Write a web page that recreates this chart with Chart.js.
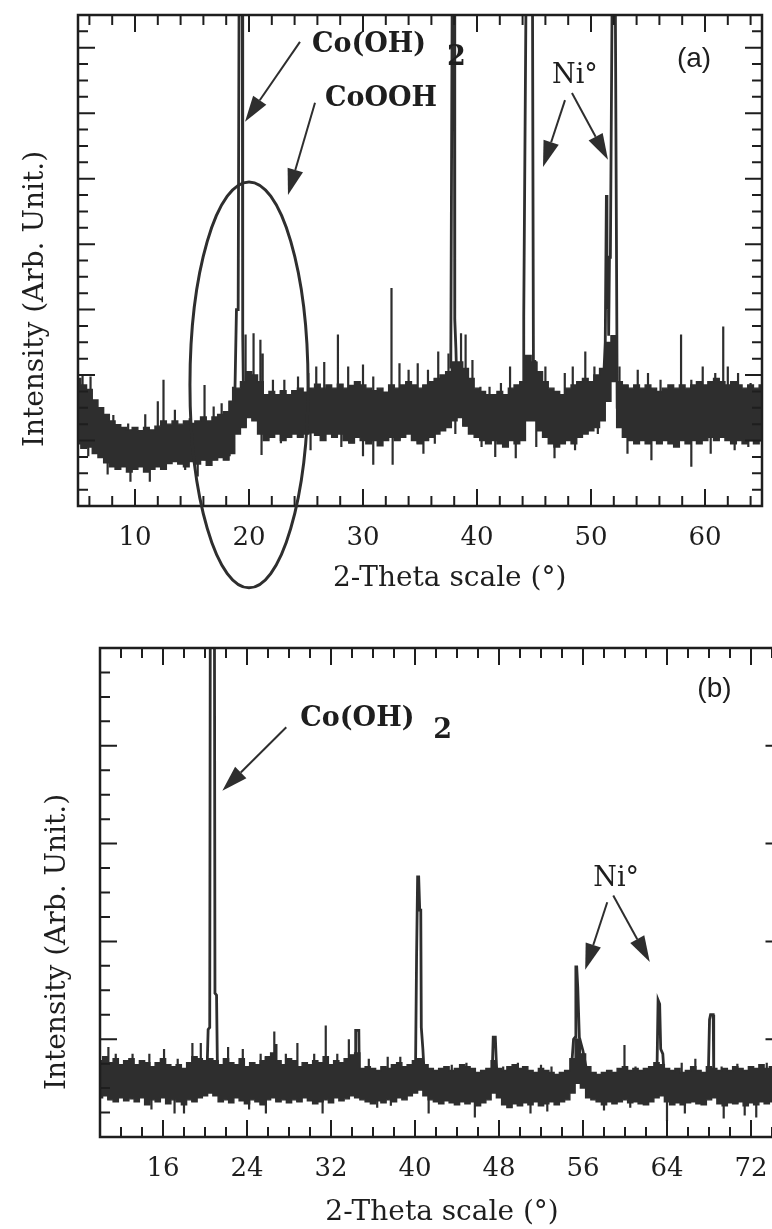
<!DOCTYPE html>
<html>
<head>
<meta charset="utf-8">
<title>XRD patterns (a) / (b)</title>
<script src="https://cdn.jsdelivr.net/npm/chart.js@4.4.1/dist/chart.umd.min.js"></script>
<style>
    html, body { margin: 0; padding: 0; background: #fff; overflow: hidden; }
    .panel { position: absolute; left: 0; }
    #panelA { top: 0; }
    #panelB { top: 620px; }
</style>
</head>
<body>
<div class="panel" id="panelA"><canvas id="chartA" width="772" height="600"></canvas></div>
<div class="panel" id="panelB"><canvas id="chartB" width="800" height="609"></canvas></div>
<script>
/**
 * XRD patterns, panel (a) and panel (b)
 * noise band = upper/lower envelope read every 0.5 deg, plus single spikes and the peak traces
 */

// ---- panel (a) data ----
const aStart = 5, aStep = 0.5;
const aUpper = [
    1.95, 1.85, 1.78, 1.62, 1.50, 1.40, 1.30, 1.24, 1.20, 1.16,   // 5.0 - 9.5
    1.20, 1.15, 1.20, 1.16, 1.22, 1.30, 1.25, 1.30, 1.25, 1.30,   // 10.0 - 14.5
    1.26, 1.30, 1.36, 1.30, 1.36, 1.40, 1.44, 1.60, 1.80, 1.90,   // 15.0 - 19.5
    2.05, 2.00, 1.90, 1.70, 1.75, 1.70, 1.76, 1.70, 1.76, 1.80,   // 20.0 - 24.5
    1.74, 1.80, 1.86, 1.80, 1.85, 1.80, 1.86, 1.80, 1.84, 1.90,   // 25.0 - 29.5
    1.85, 1.80, 1.76, 1.80, 1.74, 1.85, 1.80, 1.85, 1.90, 1.85,   // 30.0 - 34.5
    1.80, 1.85, 1.90, 1.95, 2.00, 2.05, 2.20, 2.20, 2.10, 1.95,   // 35.0 - 39.5
    1.80, 1.75, 1.70, 1.70, 1.75, 1.70, 1.80, 1.85, 1.90, 2.30,   // 40.0 - 44.5
    2.20, 2.05, 1.90, 1.80, 1.75, 1.70, 1.80, 1.85, 1.90, 1.95,   // 45.0 - 49.5
    1.90, 2.00, 2.10, 2.50, 2.60, 1.90, 1.85, 1.80, 1.85, 1.80,   // 50.0 - 54.5
    1.85, 1.80, 1.75, 1.80, 1.85, 1.80, 1.85, 1.80, 1.85, 1.90,   // 55.0 - 59.5
    1.85, 1.90, 1.95, 1.90, 1.85, 1.90, 1.85, 1.80, 1.85, 1.80,   // 60.0 - 64.5
    1.85                                                          // 65.0
];
const aLower = [
    0.95, 0.88, 0.90, 0.80, 0.74, 0.66, 0.60, 0.56, 0.60, 0.52,
    0.56, 0.60, 0.52, 0.56, 0.60, 0.56, 0.65, 0.68, 0.64, 0.60,
    0.68, 0.64, 0.70, 0.62, 0.70, 0.74, 0.70, 0.80, 1.10, 1.20,
    1.35, 1.30, 1.10, 1.00, 1.05, 1.10, 1.00, 1.05, 1.10, 1.05,
    1.10, 1.12, 1.08, 1.00, 1.10, 1.05, 1.10, 1.00, 0.96, 1.05,
    1.00, 0.95, 1.00, 0.92, 1.00, 1.05, 1.00, 1.05, 1.10, 1.00,
    0.95, 1.00, 1.05, 1.10, 1.15, 1.20, 1.30, 1.35, 1.22, 1.10,
    1.05, 1.00, 0.95, 1.00, 0.95, 0.90, 1.00, 0.95, 1.00, 1.30,
    1.30, 1.15, 1.05, 0.95, 0.90, 0.95, 1.00, 0.95, 1.05, 1.10,
    1.15, 1.20, 1.30, 1.60, 1.90, 1.20, 1.05, 1.00, 0.95, 1.00,
    0.95, 1.00, 0.95, 1.00, 0.95, 0.90, 1.00, 0.95, 1.00, 0.95,
    1.00, 1.05, 1.00, 1.05, 1.00, 0.95, 1.00, 0.95, 1.00, 0.95,
    1.00
];
// single noise spikes [2theta, tip]
const aSpikesUp = [
    [5.4, 2.0], [6.1, 1.98], [8.1, 1.39], [9.4, 1.26], [10.9, 1.4], [12.0, 1.6], [12.5, 1.93],
    [13.5, 1.47], [14.8, 1.34], [16.1, 1.85], [16.9, 1.52], [17.6, 1.57], [18.6, 1.82],
    [19.7, 2.62], [20.4, 2.64], [21.0, 2.54], [21.2, 2.33], [22.1, 1.93], [23.1, 1.93],
    [24.3, 1.98], [25.2, 2.03], [25.9, 2.13], [26.6, 2.2], [27.8, 2.62], [28.7, 2.13],
    [30.0, 2.16], [30.9, 1.98], [32.5, 3.33], [33.2, 2.18], [34.0, 2.08], [34.8, 2.18],
    [35.7, 2.08], [36.6, 2.36], [37.5, 2.33], [38.6, 2.64], [39.0, 2.62], [39.6, 2.23],
    [40.3, 1.82], [41.1, 1.82], [42.1, 1.88], [42.9, 2.13], [45.1, 2.23], [46.0, 2.13],
    [47.7, 2.03], [48.4, 2.13], [49.5, 2.36], [50.3, 2.13], [52.5, 2.13], [54.1, 2.08],
    [55.0, 2.03], [56.1, 1.93], [57.9, 2.62], [58.8, 1.93], [59.8, 2.13], [60.9, 2.03],
    [61.6, 2.74], [62.0, 2.13], [62.9, 2.03], [64.0, 1.88]
];
const aSpikesDown = [
    [5.9, 0.76], [7.6, 0.48], [9.6, 0.37], [11.3, 0.37], [12.7, 0.6], [14.4, 0.55], [15.5, 0.45],
    [18.3, 0.76], [21.1, 0.78], [22.8, 0.96], [25.4, 0.85], [28.1, 0.9], [30.0, 0.76],
    [30.9, 0.63], [32.6, 0.63], [35.3, 0.8], [36.3, 0.95], [38.1, 1.1], [40.4, 0.9],
    [41.6, 0.75], [43.4, 0.73], [45.2, 0.9], [46.8, 0.73], [48.6, 0.85], [50.6, 1.1],
    [53.2, 0.8], [55.3, 0.7], [58.8, 0.6], [60.5, 0.8], [62.6, 0.85], [63.8, 0.9]
];
// strong reflections, tops run off the frame
const aPeaks = [
    [[18.75, 1.6], [18.9, 3.0], [19.05, 3.0], [19.15, 9], [19.4, 9], [19.45, 2.6], [19.55, 1.2], [19.65, 1.9]],
    [[37.7, 2.1], [37.85, 9], [38.0, 9], [38.05, 2.85], [38.15, 2.4], [38.3, 1.4]],
    [[44.05, 1.9], [44.1, 2.9], [44.35, 9], [44.85, 9], [44.95, 2.2], [45.05, 1.3]],
    [[51.1, 1.9], [51.25, 2.5], [51.35, 4.75], [51.4, 3.0], [51.5, 3.8], [51.55, 2.6], [51.62, 3.8],
     [51.7, 3.8], [51.9, 9], [52.1, 9], [52.3, 1.5], [52.45, 1.3]]
];
const aTickLabels = [10, 20, 30, 40, 50, 60];

// ---- panel (b) data ----
const bStart = 10, bStep = 0.5;
const bUpper = [
    0.78, 0.82, 0.76, 0.80, 0.74, 0.78, 0.80, 0.74, 0.78, 0.76,   // 10.0 - 14.5
    0.72, 0.76, 0.80, 0.74, 0.72, 0.74, 0.70, 0.76, 0.82, 0.80,   // 15.0 - 19.5
    0.78, 0.80, 0.78, 0.74, 0.80, 0.76, 0.74, 0.80, 0.72, 0.76,   // 20.0 - 24.5
    0.74, 0.78, 0.82, 0.86, 0.78, 0.74, 0.80, 0.78, 0.72, 0.76,   // 25.0 - 29.5
    0.74, 0.78, 0.76, 0.82, 0.74, 0.78, 0.76, 0.80, 0.84, 0.86,   // 30.0 - 34.5
    0.70, 0.72, 0.70, 0.68, 0.72, 0.70, 0.74, 0.76, 0.72, 0.74,   // 35.0 - 39.5
    0.78, 0.80, 0.74, 0.70, 0.68, 0.70, 0.72, 0.68, 0.70, 0.74,   // 40.0 - 44.5
    0.72, 0.70, 0.66, 0.68, 0.70, 0.78, 0.70, 0.68, 0.72, 0.74,   // 45.0 - 49.5
    0.70, 0.72, 0.68, 0.66, 0.70, 0.68, 0.66, 0.64, 0.66, 0.68,   // 50.0 - 54.5
    0.80, 1.00, 0.85, 0.72, 0.66, 0.64, 0.66, 0.68, 0.66, 0.70,   // 55.0 - 59.5
    0.72, 0.68, 0.70, 0.68, 0.70, 0.72, 0.76, 0.74, 0.70, 0.68,   // 60.0 - 64.5
    0.70, 0.66, 0.68, 0.72, 0.68, 0.66, 0.72, 0.70, 0.68, 0.70,   // 65.0 - 69.5
    0.68, 0.72, 0.70, 0.68, 0.72, 0.70, 0.74, 0.70, 0.72, 0.70,   // 70.0 - 74.5
    0.72                                                          // 75.0
];
const bLower = [
    0.40, 0.42, 0.38, 0.36, 0.40, 0.37, 0.39, 0.36, 0.40, 0.33,
    0.38, 0.36, 0.40, 0.34, 0.38, 0.36, 0.33, 0.38, 0.36, 0.40,
    0.42, 0.45, 0.42, 0.36, 0.38, 0.35, 0.40, 0.37, 0.34, 0.38,
    0.36, 0.33, 0.38, 0.40, 0.36, 0.38, 0.35, 0.38, 0.36, 0.40,
    0.37, 0.34, 0.36, 0.38, 0.35, 0.40, 0.37, 0.39, 0.42, 0.40,
    0.38, 0.36, 0.34, 0.37, 0.35, 0.38, 0.36, 0.40, 0.38, 0.42,
    0.45, 0.48, 0.42, 0.38, 0.36, 0.34, 0.37, 0.35, 0.33, 0.36,
    0.34, 0.36, 0.32, 0.35, 0.38, 0.45, 0.40, 0.33, 0.30, 0.34,
    0.32, 0.35, 0.33, 0.36, 0.32, 0.34, 0.36, 0.33, 0.36, 0.38,
    0.45, 0.55, 0.50, 0.40, 0.38, 0.36, 0.33, 0.36, 0.34, 0.36,
    0.38, 0.35, 0.36, 0.34, 0.33, 0.36, 0.40, 0.42, 0.36, 0.33,
    0.35, 0.33, 0.35, 0.36, 0.34, 0.33, 0.38, 0.40, 0.34, 0.32,
    0.35, 0.34, 0.36, 0.32, 0.35, 0.33, 0.36, 0.34, 0.36, 0.35,
    0.36
];
const bSpikesUp = [
    [10.8, 0.92], [11.5, 0.85], [13.1, 0.85], [14.7, 0.85], [16.1, 0.9], [17.4, 0.8], [18.8, 0.96],
    [19.6, 0.96], [22.2, 0.92], [23.6, 0.9], [25.3, 0.85], [26.6, 1.08], [26.8, 0.95], [27.7, 0.85],
    [28.8, 0.96], [30.4, 0.85], [31.5, 1.14], [32.6, 0.85], [33.7, 1.0], [35.6, 0.8], [37.4, 0.82],
    [38.6, 0.82], [43.5, 0.74], [44.9, 0.76], [48.4, 0.72], [49.8, 0.76], [52.0, 0.74], [53.0, 0.72],
    [59.95, 0.94], [61.0, 0.72], [65.4, 0.76], [66.7, 0.8], [69.2, 0.72], [70.7, 0.75], [72.9, 0.74],
    [73.5, 0.76]
];
const bSpikesDown = [
    [14.9, 0.28], [17.1, 0.24], [18.0, 0.24], [24.2, 0.28], [25.8, 0.24], [31.2, 0.24], [36.4, 0.3],
    [37.7, 0.32], [41.3, 0.24], [45.7, 0.2], [51.0, 0.24], [52.6, 0.26], [58.0, 0.27], [60.5, 0.3],
    [64.0, 0.16], [65.7, 0.24], [69.4, 0.19], [71.4, 0.22], [72.5, 0.2]
];
const bPeaks = [
    [[20.2, 0.7], [20.3, 1.1], [20.45, 1.12], [20.55, 9], [20.85, 9], [20.95, 1.47], [21.1, 1.45], [21.2, 0.55]],
    [[34.3, 0.7], [34.35, 1.09], [34.65, 1.09], [34.7, 0.6]],
    [[40.05, 0.7], [40.15, 1.84], [40.25, 2.66], [40.35, 2.66], [40.45, 2.32], [40.55, 2.32], [40.6, 1.12], [40.75, 0.9], [40.9, 0.6]],
    [[47.35, 0.65], [47.45, 1.02], [47.65, 1.02], [47.75, 0.75], [47.85, 0.55]],
    [[54.9, 0.7], [55.1, 1.0], [55.25, 1.02], [55.32, 1.74], [55.4, 1.74], [55.5, 1.53], [55.65, 1.02], [56.0, 0.88], [56.4, 0.65]],
    [[63.05, 0.7], [63.15, 1.4], [63.3, 1.36], [63.4, 0.9], [63.6, 0.85], [63.75, 0.6]],
    [[67.95, 0.7], [68.05, 1.2], [68.15, 1.25], [68.4, 1.25], [68.45, 0.65]]
];
const bTickLabels = [16, 24, 32, 40, 48, 56, 64, 72];

// ---- styles ----
const INK = '#2e2e2e';
const TEXT = '#1e1e1e';
const SERIF = "'DejaVu Serif', 'Liberation Serif', serif";

// helpers: build {x,y} point lists from the arrays
function bandPoints(start, step, values) {
    return values.map((v, i) => ({ x: start + i * step, y: v }));
}

function spikePoints(list, start, step, base) {
    const pts = [];
    list.forEach(([x, y]) => {
        const i = Math.round((x - start) / step);
        pts.push({ x: x, y: base[i] }, { x: x, y: y }, { x: x, y: null });
    });
    return pts;
}

function tracePoints(segments) {
    const pts = [];
    segments.forEach(seg => {
        seg.forEach(([x, y]) => pts.push({ x: x, y: y }));
        pts.push({ x: seg[seg.length - 1][0], y: null });
    });
    return pts;
}

function buildDatasets(start, step, upper, lower, spikesUp, spikesDown, peaks) {
    const common = { borderColor: INK, pointRadius: 0, clip: 0, tension: 0 };
    return [
        { ...common, data: bandPoints(start, step, upper), stepped: 'middle', borderWidth: 1.4, fill: '+1', backgroundColor: INK },
        { ...common, data: bandPoints(start, step, lower), stepped: 'middle', borderWidth: 1.4, fill: false },
        { ...common, data: spikePoints(spikesUp, start, step, lower), borderWidth: 2.2, fill: false },
        { ...common, data: spikePoints(spikesDown, start, step, upper), borderWidth: 2.2, fill: false },
        { ...common, data: tracePoints(peaks), borderWidth: 2.8, fill: false }
    ];
}

/**
 * frame, inward ticks and the annotations (texts, arrows, ellipse)
 * annotation positions are given in data units and mapped through the scales
 */
const decorPlugin = {
    id: 'panelDecor',
    afterDatasetsDraw(chart, args, opts) {
        const { ctx, chartArea: area } = chart;
        const xs = chart.scales.x, ys = chart.scales.y;
        const px = v => xs.getPixelForValue(v);
        const py = v => ys.getPixelForValue(v);
        ctx.save();

        // ticks
        ctx.strokeStyle = TEXT;
        ctx.lineWidth = 2;
        ctx.beginPath();
        const nx = Math.round((xs.max - opts.xMinorFrom) / opts.xMinorStep);
        for (let i = 0; i <= nx; i++) {
            const v = opts.xMinorFrom + i * opts.xMinorStep;
            const major = opts.xTicks.some(t => Math.abs(t - v) < 1e-6);
            const len = major ? 17 : 10;
            const p = px(v);
            ctx.moveTo(p, area.bottom); ctx.lineTo(p, area.bottom - len);
            ctx.moveTo(p, area.top); ctx.lineTo(p, area.top + len);
        }
        const ny = Math.round(ys.max / opts.yMinorStep);
        for (let i = 1; i < ny; i++) {
            const v = i * opts.yMinorStep;
            const major = Math.abs(v - Math.round(v)) < 1e-6;
            const len = major ? 17 : 10;
            const p = py(v);
            ctx.moveTo(area.left, p); ctx.lineTo(area.left + len, p);
            ctx.moveTo(area.right, p); ctx.lineTo(area.right - len, p);
        }
        ctx.stroke();

        // frame
        ctx.lineWidth = 2.5;
        ctx.strokeRect(area.left, area.top, area.right - area.left, area.bottom - area.top);

        // ellipses
        ctx.strokeStyle = INK;
        (opts.ellipses || []).forEach(e => {
            const cx = px(e.cx), cy = py(e.cy);
            const rx = Math.abs(px(e.cx + e.rx) - cx), ry = Math.abs(py(e.cy + e.ry) - cy);
            ctx.lineWidth = 3;
            ctx.beginPath();
            ctx.ellipse(cx, cy, rx, ry, 0, 0, Math.PI * 2);
            ctx.stroke();
        });

        // arrows
        ctx.fillStyle = INK;
        (opts.arrows || []).forEach(a => {
            const x1 = px(a.from[0]), y1 = py(a.from[1]);
            const x2 = px(a.to[0]), y2 = py(a.to[1]);
            const ang = Math.atan2(y2 - y1, x2 - x1);
            const headLen = 26, headHalf = 8;
            const bx = x2 - headLen * Math.cos(ang), by = y2 - headLen * Math.sin(ang);
            ctx.lineWidth = 2;
            ctx.beginPath();
            ctx.moveTo(x1, y1); ctx.lineTo(bx, by);
            ctx.stroke();
            ctx.beginPath();
            ctx.moveTo(x2, y2);
            ctx.lineTo(bx + headHalf * Math.sin(ang), by - headHalf * Math.cos(ang));
            ctx.lineTo(bx - headHalf * Math.sin(ang), by + headHalf * Math.cos(ang));
            ctx.closePath();
            ctx.fill();
        });

        // texts
        ctx.fillStyle = TEXT;
        ctx.textBaseline = 'alphabetic';
        ctx.textAlign = 'left';
        (opts.texts || []).forEach(t => {
            ctx.save();
            ctx.font = t.font;
            ctx.translate(px(t.x), py(t.y));
            if (t.rotate) ctx.rotate(t.rotate);
            ctx.fillText(t.text, 0, 0);
            ctx.restore();
        });

        ctx.restore();
    }
};

function makeChart(canvasId, cfg) {
    const ctx = document.getElementById(canvasId).getContext('2d');
    return new Chart(ctx, {
        type: 'line',
        data: { datasets: cfg.datasets },
        options: {
            responsive: false,
            animation: false,
            devicePixelRatio: 1,
            events: [],
            layout: { padding: cfg.padding },
            plugins: {
                legend: { display: false },
                tooltip: { enabled: false },
                panelDecor: cfg.decor
            },
            scales: {
                x: {
                    type: 'linear',
                    min: cfg.xMin,
                    max: cfg.xMax,
                    afterBuildTicks: s => { s.ticks = cfg.xTicks.map(v => ({ value: v })); },
                    afterFit: s => { s.height = cfg.xAxisHeight; },
                    grid: { display: false, drawTicks: false },
                    border: { display: false },
                    ticks: {
                        font: { family: SERIF, size: 26 },
                        color: TEXT,
                        padding: 17,
                        maxRotation: 0,
                        autoSkip: false
                    }
                },
                y: {
                    type: 'linear',
                    min: 0,
                    max: cfg.yMax,
                    afterFit: s => { s.width = cfg.yAxisWidth; },
                    grid: { display: false, drawTicks: false },
                    border: { display: false },
                    ticks: { display: false }
                }
            }
        },
        plugins: [decorPlugin]
    });
}

const BOLD = 'bold 27px ' + SERIF;
const REG = '27px ' + SERIF;
const TITLE = '28px ' + SERIF;
const SANS = "28px 'Liberation Sans', Arial, sans-serif";

// panel (a)
makeChart('chartA', {
    datasets: buildDatasets(aStart, aStep, aUpper, aLower, aSpikesUp, aSpikesDown, aPeaks),
    xMin: 5, xMax: 65, yMax: 7.5,
    xTicks: aTickLabels,
    xAxisHeight: 94, yAxisWidth: 78,
    padding: { top: 15, right: 10, left: 0, bottom: 0 },
    decor: {
        xTicks: aTickLabels, xMinorFrom: 6, xMinorStep: 2, yMinorStep: 0.25,
        ellipses: [{ cx: 20.0, cy: 1.85, rx: 5.18, ry: 3.1 }],
        arrows: [
            { from: [24.47, 7.09], to: [19.65, 5.87] },
            { from: [25.79, 6.16], to: [23.42, 4.75] },
            { from: [47.72, 6.20], to: [45.79, 5.18] },
            { from: [48.33, 6.31], to: [51.49, 5.29] }
        ],
        texts: [
            { text: 'Co(OH)', x: 25.53, y: 6.93, font: BOLD },
            { text: '2', x: 37.37, y: 6.74, font: BOLD },
            { text: 'CoOOH', x: 26.67, y: 6.11, font: BOLD },
            { text: 'Ni°', x: 46.58, y: 6.46, font: REG },
            { text: '(a)', x: 57.54, y: 6.71, font: SANS },
            { text: '2-Theta scale (°)', x: 27.37, y: -1.22, font: TITLE },
            { text: 'Intensity (Arb. Unit.)', x: 1.93, y: 0.9, font: TITLE, rotate: -Math.PI / 2 }
        ]
    }
});

// panel (b)
makeChart('chartB', {
    datasets: buildDatasets(bStart, bStep, bUpper, bLower, bSpikesUp, bSpikesDown, bPeaks),
    xMin: 10, xMax: 75, yMax: 5,
    xTicks: bTickLabels,
    xAxisHeight: 92, yAxisWidth: 100,
    padding: { top: 28, right: 17.5, left: 0, bottom: 0 },
    decor: {
        xTicks: bTickLabels, xMinorFrom: 10, xMinorStep: 2, yMinorStep: 0.25,
        arrows: [
            { from: [27.74, 4.19], to: [21.65, 3.54] },
            { from: [58.31, 2.40], to: [56.21, 1.71] },
            { from: [58.88, 2.47], to: [62.36, 1.79] }
        ],
        texts: [
            { text: 'Co(OH)', x: 29.08, y: 4.20, font: BOLD },
            { text: '2', x: 41.74, y: 4.08, font: BOLD },
            { text: 'Ni°', x: 56.98, y: 2.57, font: REG },
            { text: '(b)', x: 66.89, y: 4.50, font: SANS },
            { text: '2-Theta scale (°)', x: 31.46, y: -0.85, font: TITLE },
            { text: 'Intensity (Arb. Unit.)', x: 6.7, y: 0.48, font: TITLE, rotate: -Math.PI / 2 }
        ]
    }
});
</script>
</body>
</html>
